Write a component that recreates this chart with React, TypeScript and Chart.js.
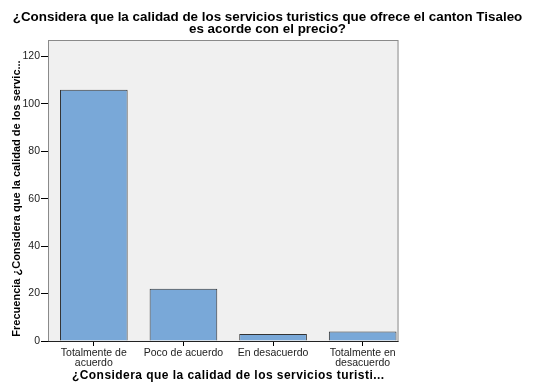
import React, { useEffect, useRef } from "react";
import { Chart, registerables } from "chart.js";

Chart.register(...registerables);

const categories: (string | string[])[] = [
  ["Totalmente de", "acuerdo"],
  "Poco de acuerdo",
  "En desacuerdo",
  ["Totalmente en", "desacuerdo"],
];
const frequencies: number[] = [106, 22, 3, 4];
const titleLines: string[] = [
  "¿Considera que la calidad de los servicios turistics que ofrece el canton Tisaleo",
  "es acorde con el precio?",
];
const yAxisTitle = "Frecuencia ¿Considera que la calidad de los servic...";
const xAxisTitle = "¿Considera que la calidad de los servicios turisti...";

const FONT = "'Liberation Sans', Arial, sans-serif";
const BAR_PCT = 0.755;

function frameRect(chart: any) {
  const a = chart.chartArea;
  const x = chart.scales.x;
  const n = categories.length;
  const catW = (a.right - a.left) / n;
  const right = x.getPixelForValue(n - 1) + (catW * BAR_PCT) / 2 + 2;
  return { left: a.left - 1, top: a.top, right, bottom: a.bottom };
}

const decorations = {
  id: "decorations",
  beforeDatasetsDraw(chart: any) {
    const { ctx } = chart;
    const f = frameRect(chart);
    ctx.save();
    ctx.fillStyle = "#f0f0f0";
    ctx.fillRect(f.left, f.top, f.right - f.left, f.bottom - f.top);
    ctx.restore();
  },
  afterDraw(chart: any) {
    const { ctx, chartArea: a, width } = chart;
    const f = frameRect(chart);
    ctx.save();
    ctx.strokeStyle = "#8a8a8a";
    ctx.lineWidth = 1;
    ctx.strokeRect(f.left + 0.5, f.top + 0.5, f.right - f.left - 1, f.bottom - f.top);
    // axis baseline
    ctx.strokeStyle = "#222";
    ctx.beginPath();
    ctx.moveTo(f.left, f.bottom + 0.5);
    ctx.lineTo(f.right, f.bottom + 0.5);
    ctx.stroke();

    // main title
    ctx.fillStyle = "#000";
    ctx.textAlign = "center";
    ctx.textBaseline = "alphabetic";
    ctx.font = `bold 13.4px ${FONT}`;
    (ctx as any).letterSpacing = "0px";
    ctx.fillText(titleLines[0], width / 2, 21);
    ctx.fillText(titleLines[1], width / 2, 33);

    // x axis title
    ctx.font = `bold 12px ${FONT}`;
    (ctx as any).letterSpacing = "0.45px";
    ctx.fillText(xAxisTitle, (a.left + a.right) / 2, 379);

    // y axis title
    (ctx as any).letterSpacing = "0px";
    ctx.font = `bold 11px ${FONT}`;
    ctx.translate(20, (a.top + a.bottom) / 2 + 8);
    ctx.rotate(-Math.PI / 2);
    ctx.fillText(yAxisTitle, 0, 0);
    ctx.restore();
  },
};

export default function App() {
  const ref = useRef<HTMLCanvasElement | null>(null);
  useEffect(() => {
    if (!ref.current) return;
    const chart = new Chart(ref.current, {
      type: "bar",
      data: {
        labels: categories,
        datasets: [
          {
            data: frequencies,
            backgroundColor: "#79a8d8",
            borderColor: "#333333",
            borderWidth: 1,
            categoryPercentage: 1,
            barPercentage: BAR_PCT,
          },
        ],
      },
      plugins: [decorations],
      options: {
        animation: false,
        responsive: false,
        maintainAspectRatio: false,
        layout: { padding: { left: 0, right: 127.5, top: 40, bottom: 0 } },
        plugins: {
          legend: { display: false },
          tooltip: { enabled: false },
          title: { display: false },
        },
        scales: {
          x: {
            grid: {
              offset: false,
              drawOnChartArea: false,
              drawTicks: true,
              tickLength: 5,
              color: "#000",
            },
            border: { display: false },
            ticks: {
              color: "#222",
              font: { family: FONT, size: 10.5, lineHeight: 0.95 },
              maxRotation: 0,
              minRotation: 0,
              autoSkip: false,
              padding: 2,
            },
            afterFit(scale: any) {
              scale.height = 41;
            },
          },
          y: {
            min: 0,
            max: 127,
            grid: {
              drawOnChartArea: false,
              drawTicks: true,
              tickLength: 8,
              color: "#000",
            },
            border: { display: false },
            ticks: {
              stepSize: 20,
              includeBounds: false,
              color: "#222",
              font: { family: FONT, size: 10.5 },
              padding: 1,
            },
            afterFit(scale: any) {
              scale.width = 49;
            },
          },
        },
      },
    });
    return () => chart.destroy();
  }, []);
  return (
    <div style={{ position: "fixed", left: 0, top: 0, width: 535, height: 382, background: "#fff" }}>
      <canvas ref={ref} width={535} height={382} style={{ width: 535, height: 382, display: "block" }} />
    </div>
  );
}
